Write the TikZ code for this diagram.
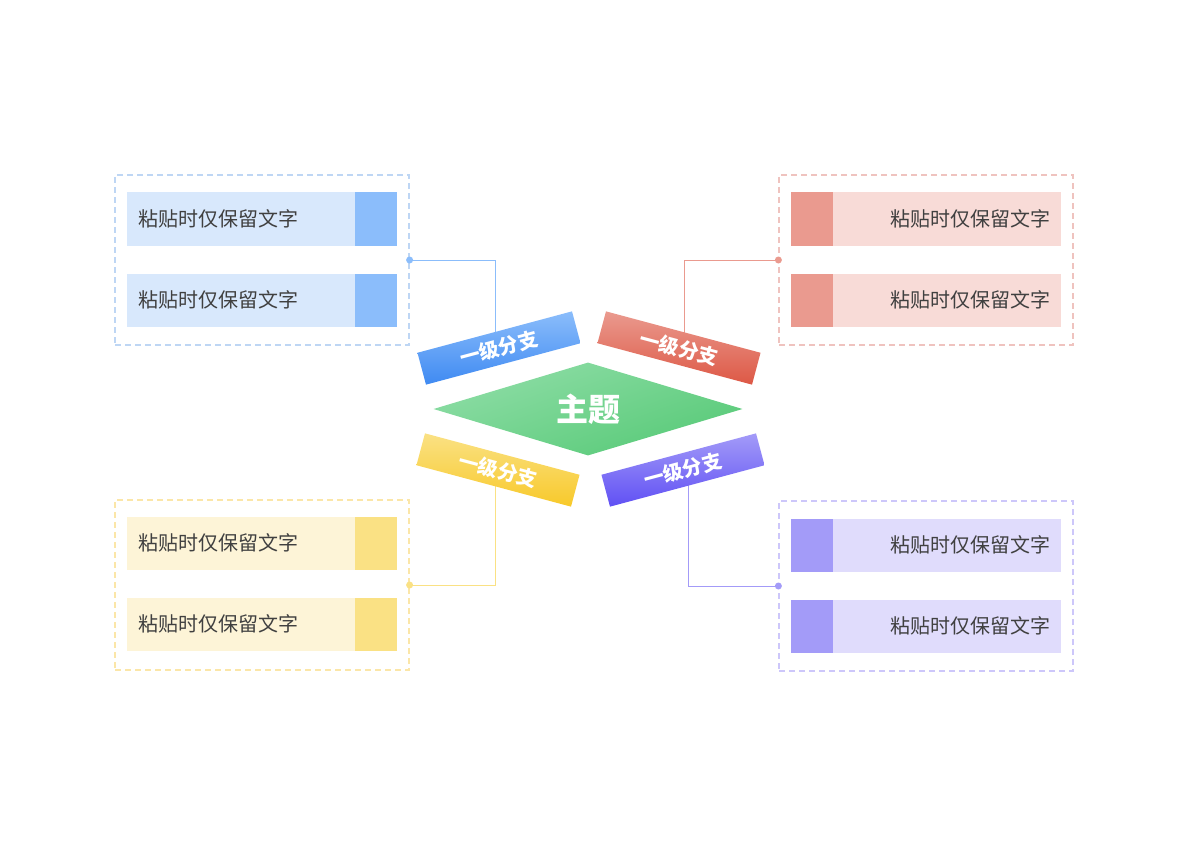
\documentclass[tikz,border=0pt]{standalone}
\usepackage{fontspec}
\setmainfont{Noto Sans CJK SC}
\usetikzlibrary{positioning,backgrounds,shapes.geometric}
\definecolor{bluel}{HTML}{D8E8FC}\definecolor{blued}{HTML}{8BBDFB}\definecolor{bluef}{HTML}{BED6F4}\definecolor{bluex}{HTML}{3F8AF2}
\definecolor{redl}{HTML}{F8DBD7}\definecolor{redd}{HTML}{EA9A8F}\definecolor{redf}{HTML}{EFC3BF}\definecolor{redx}{HTML}{DD5845}
\definecolor{yell}{HTML}{FDF4D7}\definecolor{yeld}{HTML}{FAE184}\definecolor{yelf}{HTML}{FBE6A8}\definecolor{yelx}{HTML}{F8C92A}
\definecolor{purl}{HTML}{E0DCFC}\definecolor{purd}{HTML}{A39BF8}\definecolor{purf}{HTML}{CDC7FA}\definecolor{purx}{HTML}{6050F4}
\definecolor{grnl}{HTML}{8EDDA6}\definecolor{grnd}{HTML}{58CA78}
\definecolor{txt}{HTML}{404040}
\tikzset{
  groupbox/.style={draw=#1, line width=1.2pt, dash pattern=on 6pt off 4pt, minimum width=294pt, minimum height=170pt},
  item/.style={fill=#1, minimum width=270pt, minimum height=53pt, inner sep=0pt},
  tag/.style={fill=#1, minimum width=42pt, minimum height=53pt, inner sep=0pt},
  itemtext/.style={text=txt, font=\fontsize{20}{23}\selectfont, inner sep=0pt},
  branch/.style 2 args={top color=#1, bottom color=#2, minimum width=160pt, minimum height=33pt, inner sep=0pt,
    text=white, font=\bfseries\fontsize{20}{22}\selectfont},
  dot/.style={circle, fill=#1, inner sep=0pt, minimum size=7pt},
  link/.style={draw=#1, line width=1pt}
}
\begin{document}
\begin{tikzpicture}[x=1pt, y=-1pt]
\useasboundingbox (0,0) rectangle (1200,848);
% center
\node[diamond, shading=axis, top color=grnl, bottom color=grnd, shading angle=20,
  minimum width=309pt, minimum height=93pt, inner sep=0pt, aspect=3.3,
  text=white, font=\bfseries\fontsize{32}{36}\selectfont] (topic) at (588,409) {主题};
% branches
\node[branch={blued}{bluex}, rotate=15] (bB) at (499,348) {一级分支};
\node[branch={redd}{redx}, rotate=-15] (bR) at (679,348) {一级分支};
\node[branch={yeld}{yelx}, rotate=-15] (bY) at (498,470) {一级分支};
\node[branch={purd}{purx}, rotate=15] (bP) at (683,470) {一级分支};
% frames
\node[groupbox=bluef] (fB) at (262,260) {};
\node[groupbox=redf] (fR) at (926,260) {};
\node[groupbox=yelf] (fY) at (262,585) {};
\node[groupbox=purf] (fP) at (926,586) {};
% items
\foreach \n/\y/\c in {B1/219/blue, B2/300/blue, Y1/543/yel, Y2/624/yel}{
  \node[item=\c l] (i\n) at (262,\y) {};
  \node[tag=\c d, anchor=east] at (i\n.east) {};
  \node[itemtext, anchor=west] at ([xshift=11pt]i\n.west) {粘贴时仅保留文字};
}
\foreach \n/\y/\c in {R1/219/red, R2/300/red, P1/545/pur, P2/626/pur}{
  \node[item=\c l] (i\n) at (926,\y) {};
  \node[tag=\c d, anchor=west] at (i\n.west) {};
  \node[itemtext, anchor=east] at ([xshift=-11pt]i\n.east) {粘贴时仅保留文字};
}
% dots
\node[dot=blued] (dB) at (fB.east) {};
\node[dot=redd] (dR) at (fR.west) {};
\node[dot=yeld] (dY) at (fY.east) {};
\node[dot=purd] (dP) at (fP.west) {};
% links
\begin{scope}[on background layer]
\draw[link=blued] (dB) -| ([xshift=-4pt]bB.center);
\draw[link=redd] (dR) -| ([xshift=5pt]bR.center);
\draw[link=yeld] (dY) -| ([xshift=-3pt]bY.center);
\draw[link=purd] (dP) -| ([xshift=5pt]bP.center);
\end{scope}
\end{tikzpicture}
\end{document}
